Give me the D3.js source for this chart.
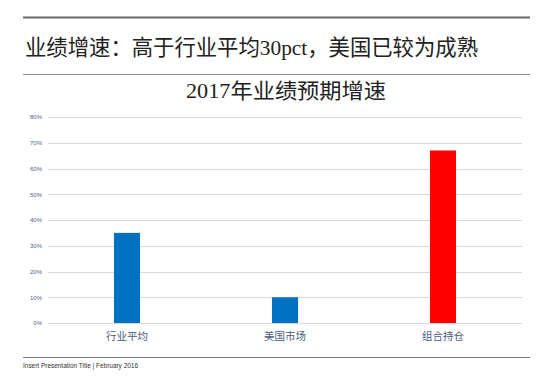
<!DOCTYPE html>
<html><head><meta charset="utf-8">
<script src="https://cdn.jsdelivr.net/npm/d3@7"></script>
<style>body{margin:0;background:#fff}svg{display:block}</style>
</head><body>
<script>
const categories = ["行业平均", "美国市场", "组合持仓"];
const values = [0.35, 0.10, 0.67];
const barColors = ["#0070c0", "#0070c0", "#ff0000"];
const yTicks = [0, 0.1, 0.2, 0.3, 0.4, 0.5, 0.6, 0.7, 0.8];
const pageTitle = "业绩增速：高于行业平均30pct，美国已较为成熟";
const chartTitle = "2017年业绩预期增速";
const footer = "Insert Presentation Title | February 2016";

const W = 554, H = 384;
const svg = d3.select("body").append("svg").attr("width", W).attr("height", H);
const serif = "'Liberation Serif','Noto Sans CJK SC',serif";

// header lines
svg.append("line").attr("x1", 23).attr("x2", 530).attr("y1", 17.5).attr("y2", 17.5)
  .attr("stroke", "#6b6b6b").attr("stroke-width", 2);
svg.append("text").attr("x", 25).attr("y", 55).text(pageTitle)
  .attr("font-family", serif).attr("font-size", 21.5).attr("fill", "#222")
  .attr("textLength", 453).attr("lengthAdjust", "spacingAndGlyphs");
svg.append("line").attr("x1", 23).attr("x2", 530).attr("y1", 74.5).attr("y2", 74.5)
  .attr("stroke", "#8a8a8a").attr("stroke-width", 1);
svg.append("text").attr("x", 286).attr("y", 98).attr("text-anchor", "middle").text(chartTitle)
  .attr("font-family", serif).attr("font-size", 21).attr("fill", "#222")
  .attr("textLength", 200).attr("lengthAdjust", "spacingAndGlyphs");

const x = d3.scaleBand().domain(categories).range([48, 522]).paddingInner(0.835).paddingOuter(0.4175);
const y = d3.scaleLinear().domain([0, 0.8]).range([323, 117]);

// gridlines
svg.append("g").selectAll("line").data(yTicks).join("line")
  .attr("x1", 48).attr("x2", 522)
  .attr("y1", d => Math.round(y(d)) + 0.5).attr("y2", d => Math.round(y(d)) + 0.5)
  .attr("stroke", "#d9d9d9").attr("stroke-width", 1);

// y axis labels
const yAxis = d3.axisLeft(y).tickValues(yTicks).tickFormat(d3.format(".0%")).tickSize(0).tickPadding(0);
const ga = svg.append("g").attr("transform", "translate(42,0)").call(yAxis);
ga.select(".domain").remove();
ga.selectAll("text").attr("font-family", "Arial, 'Liberation Sans', sans-serif").attr("font-size", 6)
  .attr("fill", "#4f5f7f");

// bars
svg.append("g").selectAll("rect").data(values).join("rect")
  .attr("x", (d, i) => x(categories[i])).attr("width", x.bandwidth())
  .attr("y", d => y(d)).attr("height", d => y(0) - y(d))
  .attr("fill", (d, i) => barColors[i]);

// x axis labels
const xAxis = d3.axisBottom(x).tickSize(0).tickPadding(0);
const gx = svg.append("g").attr("transform", "translate(0,333)").call(xAxis);
gx.select(".domain").remove();
gx.selectAll("text").attr("font-family", "'Noto Sans CJK SC', sans-serif").attr("font-size", 10.5)
  .attr("fill", "#4a5a7a");

// footer
svg.append("line").attr("x1", 23).attr("x2", 530).attr("y1", 357.5).attr("y2", 357.5)
  .attr("stroke", "#7a7a7a").attr("stroke-width", 1);
svg.append("text").attr("x", 23).attr("y", 368).text(footer)
  .attr("font-family", "Arial, 'Liberation Sans', sans-serif").attr("font-size", 6.3).attr("fill", "#333")
  .attr("textLength", 115).attr("lengthAdjust", "spacingAndGlyphs");
</script>
</body></html>
